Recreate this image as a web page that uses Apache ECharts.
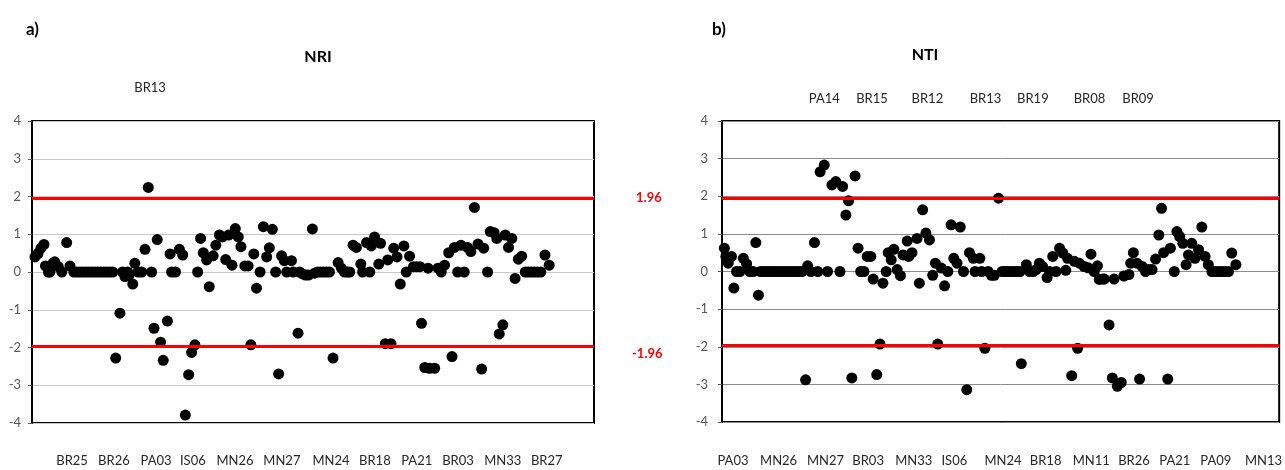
<!DOCTYPE html>
<html>
<head>
<meta charset="utf-8">
<script src="https://cdn.jsdelivr.net/npm/echarts@6/dist/echarts.min.js"></script>
<style>
  html, body { margin: 0; padding: 0; background: #fff; }
  #chart { width: 1285px; height: 470px; }
</style>
</head>
<body>
<div id="chart"></div>
<script>
// population index along x, standardized effect size along y
var nriPoints = [
  [1,0.4],[2,0.49],[3,0.63],[4,0.73],[4.5,0.16],[5.5,0],[6,0],[7,0.23],[7.6,0.27],[8.8,0.14],[10,0],[11.6,0.78],[12.7,0.16],
  [14,0],[15,0],[16,0],[17,0],[18,0],[19,0],[20,0],[21,0],[22,0],[23,0],[24,0],[25,0],[26,0],[27,0],
  [28,-2.28],[29.4,-1.09],[30.3,0],[31.1,-0.12],[32,0],[32.5,-0.08],[33.7,-0.32],[34.4,0.23],[35.5,0],[36.7,0],[37.8,0.6],
  [38.9,2.24],[40,0],[40.8,-1.49],[41.9,0.86],[43,-1.86],[43.9,-2.34],[45.3,-1.3],[46.2,0.48],[46.7,0],[48,0],[49.3,0.6],
  [50.4,0.45],[51.3,-3.79],[52.4,-2.72],[53.4,-2.13],[54.5,-1.93],[55.4,0],[56.4,0.89],[57.3,0.51],[58.4,0.32],[59.3,-0.39],
  [60.6,0.43],[61.5,0.71],[62.7,0.98],[63.7,0.93],[64.8,0.33],[65.8,0.98],[66.9,0.18],[68,1.15],[69,0.93],[69.9,0.67],
  [71.2,0.16],[72.3,0.16],[73.2,-1.93],[74.2,0.48],[75.1,-0.43],[76.3,0],[77.4,1.2],[78.5,0.4],[79.4,0.64],[80.4,1.13],
  [81.5,0],[82.5,-2.7],[83.5,0.43],[84.4,0.3],[85.2,0],[86.8,0.3],[87.4,0],[89,-1.62],[89.5,0],[90.5,-0.05],[91.5,-0.08],
  [92.5,-0.08],[93.8,1.14],[94.5,-0.03],[95.5,0],[96.5,0],[97.5,0],[98.5,0],[99.5,0],[100.7,-2.28],[102.4,0.25],[103.5,0.1],
  [104.5,0],[105.5,0],[106.3,0],[107.4,0.71],[108.5,0.65],[110,0.21],[110.6,0],[111.9,0.78],[113,0],[113.5,0.69],[114.6,0.93],
  [116,0.21],[116.6,0.76],[118.2,-1.9],[119,0.32],[120.1,-1.9],[121,0.63],[122.1,0.4],[123.2,-0.32],[124.4,0.69],[125.2,0],
  [126.3,0.42],[127.6,0.14],[128.7,0.14],[129.8,0.14],[130.3,-1.36],[131.4,-2.53],[132.5,0.1],[133,-2.55],[134.7,-2.55],
  [135.8,0.1],[136.9,0],[138,0.18],[139.4,0.51],[140.5,-2.24],[141.3,0.65],[142.4,0],[143.5,0.71],[144.6,0],[145.7,0.65],
  [146.8,0.54],[148,1.71],[149.2,0.74],[150.4,-2.57],[151.1,0.63],[152.4,0],[153.3,1.07],[154.6,1.04],[155.5,0.89],
  [156.3,-1.64],[157.5,-1.4],[158.3,0.98],[159.4,0.65],[160.5,0.89],[161.6,-0.17],[162.7,0.34],[163.8,0.42],[165,0],
  [166,0],[167,0],[168,0],[169,0],[170.2,0],[171.6,0.45],[173,0.18]
];

var ntiPoints = [
  [0.8,0.62],[1.3,0.4],[2.1,0.22],[3.2,0.4],[4,-0.44],[4.9,0],[6,0],[7.2,0.35],[8.3,0.2],[9.4,0],[10.5,0],[11.4,0.77],[12.3,-0.63],
  [13,0],[14,0],[15,0],[16,0],[17,0],[18,0],[19,0],[20,0],[21,0],[22,0],[23,0],[24,0],[25,0],[26,0],[27,0],
  [28.2,-2.88],[28.9,0.15],[30,0],[31.2,0.77],[32.3,0],[33.1,2.65],[34.5,2.83],[35.6,0],[37.1,2.3],[38.4,2.39],[39.8,0],
  [40.7,2.26],[41.8,1.5],[42.7,1.88],[43.8,-2.83],[44.9,2.54],[45.9,0.62],[46.8,0],[47.9,0],[49,0.4],[50.2,0.4],[51,-0.2],
  [52.2,-2.74],[53.3,-1.93],[54.3,-0.31],[55.4,0],[56.1,0.5],[57.1,0.31],[58,0.59],[59.1,0.05],[60.2,-0.11],[61.1,0.44],
  [62.5,0.81],[63,0.4],[64.1,0.5],[65.8,0.88],[66.6,-0.31],[67.7,1.64],[68.8,1.02],[70,0.84],[71.1,-0.1],[72,0.22],
  [72.8,-1.93],[74,0.09],[75.1,-0.38],[76.2,0],[77.3,1.24],[78.2,0.35],[79.3,0.22],[80.4,1.18],[81.5,0],[82.6,-3.14],
  [83.5,0.5],[84.8,0.35],[85.4,0],[87,0.35],[87.6,0],[88.7,-2.04],[89.8,0],[90.9,-0.1],[91.9,-0.1],[93.3,1.95],[94.5,0],
  [95.5,0],[96.5,0],[97.5,0],[98.5,0],[99.5,0],[100.5,0],[101,-2.45],[102.7,0.18],[103.8,0],[105,0],[106,0.05],[107.1,0.22],
  [108.2,0.13],[109.7,-0.16],[110.5,0],[111.6,0.4],[112.7,0],[113.9,0.62],[115,0.49],[116,0.03],[116.6,0.35],[118,-2.77],
  [118.9,0.27],[120,-2.04],[120.6,0.22],[122.2,0.13],[123.5,0.1],[124.5,0.46],[125.6,0],[126.7,0.15],[127.3,-0.21],
  [128.5,-0.2],[129,-0.2],[130.6,-1.42],[131.7,-2.83],[132.3,-0.2],[133.4,-3.05],[134.7,-2.95],[135.6,-0.12],[137.3,-0.08],
  [137.9,0.22],[138.8,0.5],[140,0.22],[140.9,-2.86],[141.8,0.13],[142.9,0],[144,0.05],[145.1,0.05],[146.3,0.33],[147.4,0.97],
  [148.3,1.68],[149,0.5],[150.4,-2.86],[151.3,0.62],[152.6,0],[153.5,1.06],[154.4,0.93],[155.5,0.75],[156.6,0.18],
  [157.4,0.44],[158.5,0.75],[159.6,0.35],[160.8,0.58],[161.9,1.18],[163,0.4],[164.1,0.18],[165.3,0],[166.4,0],[167.5,0],
  [168.6,0],[169.8,0],[170.9,0],[172,0.49],[173.4,0.18]
];

var thresholds = [1.96, -1.96];

// population names written under / above each panel, at an x index
var nriBottomNames = ["BR25","BR26","PA03","IS06","MN26","MN27","MN24","BR18","PA21","BR03","MN33","BR27"];
var nriBottomAt = [13.4, 27.4, 41.5, 53.8, 67.9, 83.6, 100, 114.7, 128.7, 142.5, 157.5, 172.2];
var nriTopNames = ["BR13"];
var nriTopAt = [39.5];

var ntiBottomNames = ["PA03","MN26","MN27","BR03","MN33","IS06","MN24","BR18","MN11","BR26","PA21","PA09","MN13"];
var ntiBottomAt = [3.7, 19.1, 34.9, 49.3, 64.7, 78.4, 94.8, 109.2, 124.6, 139, 152.8, 166.6, 182.7];
var ntiTopNames = ["PA14","BR15","BR12","BR13","BR19","BR08","BR09"];
var ntiTopAt = [34.5, 50.6, 69.3, 88.9, 104.9, 124, 140.4];

var FONT = "Lato";

function nameAxis(grid, pos, at, names, margin) {
  return {
    type: "value", gridIndex: grid, position: pos, min: 0, max: 188,
    axisLine: { show: false }, axisTick: { show: false }, splitLine: { show: false },
    axisLabel: {
      customValues: at, margin: margin, color: "#262626", fontSize: 13, fontFamily: FONT,
      formatter: function (v) {
        var k = at.indexOf(v);
        return k >= 0 ? names[k] : "";
      }
    }
  };
}

function yAxisFor(grid, gridColor, margin) {
  return {
    type: "value", gridIndex: grid, min: -4, max: 4, interval: 1,
    axisLine: { show: true, lineStyle: { color: "#000", width: 2 } },
    axisTick: { show: true, length: 4, lineStyle: { color: "#595959" } },
    axisLabel: { margin: margin, color: "#595959", fontSize: 13, fontFamily: FONT },
    splitLine: { show: true, lineStyle: { color: gridColor, width: 1 } }
  };
}

function redLines(withLabels) {
  return {
    silent: true, symbol: "none",
    lineStyle: { color: "#ff0000", width: 3, type: "solid", opacity: 1 },
    data: thresholds.map(function (t) {
      return {
        yAxis: t,
        label: withLabels ? {
          show: true, position: "end",
          // the negative label sits a little below its line
          formatter: t > 0 ? String(t) : "\n" + String(t),
          lineHeight: 16,
          color: "#ff0000", fontWeight: "bold", fontSize: 13, fontFamily: FONT,
          distance: t > 0 ? 42 : 38
        } : { show: false }
      };
    })
  };
}

var chart = echarts.init(document.getElementById("chart"), null, { renderer: "canvas" });
chart.setOption({
  animation: false,
  backgroundColor: "#fff",
  title: [
    { text: "a)", left: 21, top: 16, textStyle: { fontSize: 17, fontWeight: "bold", fontFamily: FONT, color: "#000" } },
    { text: "NRI", left: 313, top: 44, textAlign: "center", textStyle: { fontSize: 16, fontWeight: "bold", fontFamily: FONT, color: "#000" } },
    { text: "b)", left: 707, top: 16, textStyle: { fontSize: 17, fontWeight: "bold", fontFamily: FONT, color: "#000" } },
    { text: "NTI", left: 920, top: 42, textAlign: "center", textStyle: { fontSize: 16, fontWeight: "bold", fontFamily: FONT, color: "#000" } }
  ],
  grid: [
    { left: 32, top: 121, width: 562, height: 302, show: true, borderColor: "#000", borderWidth: 2, backgroundColor: "#fff" },
    { left: 722, top: 121, width: 560, height: 301, show: true, borderColor: "#000", borderWidth: 2, backgroundColor: "#fff" }
  ],
  xAxis: [
    nameAxis(0, "bottom", nriBottomAt, nriBottomNames, 31),
    nameAxis(0, "top", nriTopAt, nriTopNames, 27),
    nameAxis(1, "bottom", ntiBottomAt, ntiBottomNames, 32),
    nameAxis(1, "top", ntiTopAt, ntiTopNames, 16)
  ],
  yAxis: [
    yAxisFor(0, "#c8c8c8", 11),
    yAxisFor(1, "#8c8c8c", 14)
  ],
  series: [
    {
      name: "NRI", type: "scatter", xAxisIndex: 0, yAxisIndex: 0,
      symbol: "circle", symbolSize: 11, itemStyle: { color: "#000", opacity: 1 },
      data: nriPoints, markLine: redLines(true)
    },
    {
      name: "NTI", type: "scatter", xAxisIndex: 2, yAxisIndex: 1,
      symbol: "circle", symbolSize: 11, itemStyle: { color: "#000", opacity: 1 },
      data: ntiPoints, markLine: redLines(false)
    }
  ]
});
</script>
</body>
</html>
